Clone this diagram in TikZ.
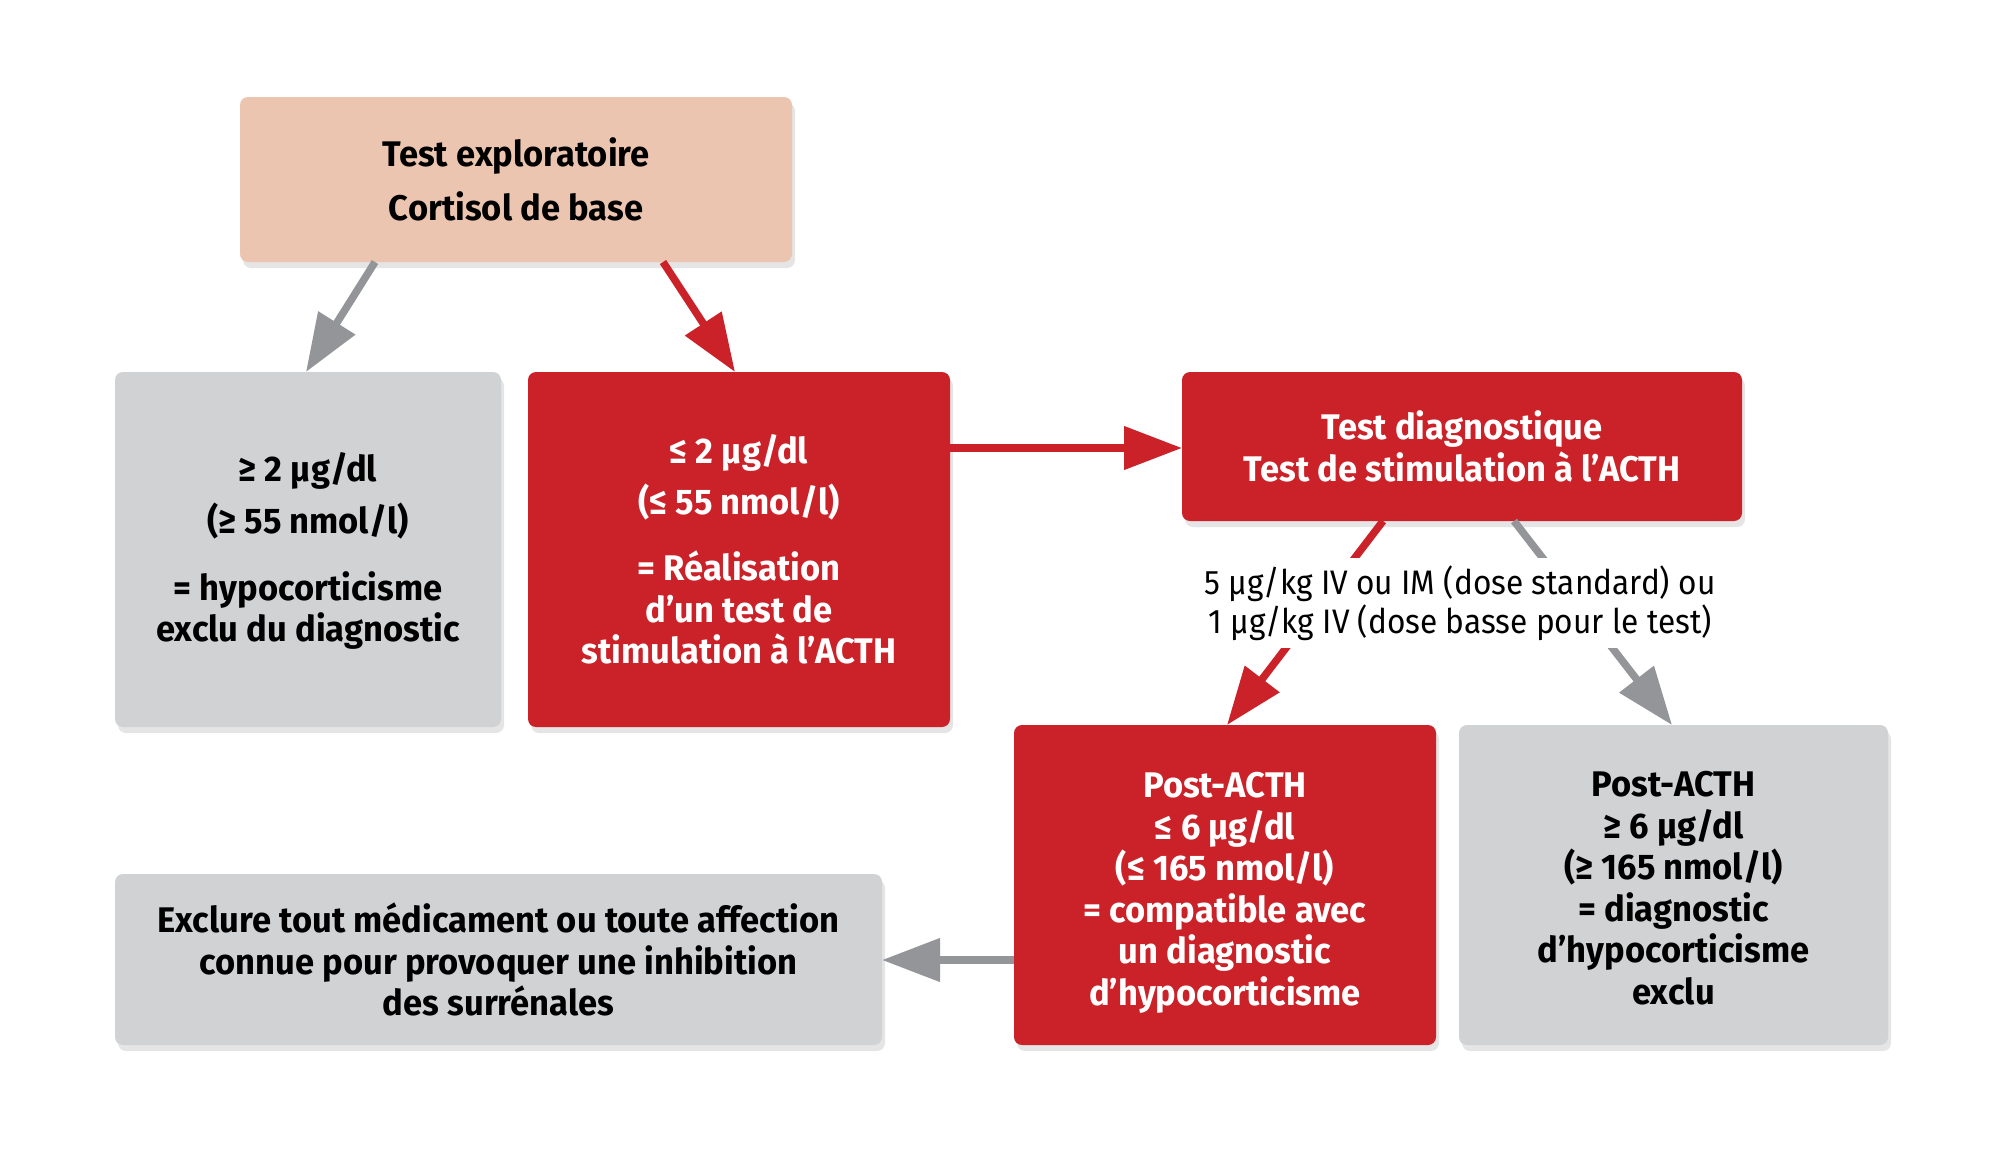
\documentclass[tikz,border=0pt]{standalone}
\usepackage{fontspec}
\setmainfont{Fira Sans}[FakeStretch=0.97]
\newfontfamily\lblfont{Fira Sans}[FakeStretch=0.93]
\usetikzlibrary{arrows.meta,shadows,calc}
\definecolor{cpeach}{HTML}{ECC5B0}
\definecolor{cred}{HTML}{CB2229}
\definecolor{cgray}{HTML}{D1D2D4}
\definecolor{carrow}{HTML}{939598}
\newcommand{\topstrut}{\rule{0pt}{20.5pt}}
\begin{document}
\begin{tikzpicture}[x=0.5pt,y=-0.5pt,
  box/.style={rounded corners=4pt, inner sep=0pt, outer sep=0pt, align=center,
    font=\fontsize{17.8}{20.75}\selectfont\bfseries,
    drop shadow={shadow xshift=1.5pt,shadow yshift=-3pt,opacity=0.2}},
  peachbox/.style={box, fill=cpeach, text=black},
  redbox/.style={box, fill=cred, text=white},
  graybox/.style={box, fill=cgray, text=black},
  rarr/.style={draw=cred, line width=3.75pt, -{Triangle[length=29pt,width=21pt]}, fill=cred},
  garr/.style={draw=carrow, line width=3.75pt, -{Triangle[length=29pt,width=21pt]}, fill=carrow},
  lbl/.style={align=center, fill=white, inner xsep=2pt, minimum height=45pt,
    font=\lblfont\fontsize{17}{19.6}\selectfont}
]
\useasboundingbox[fill=white] (0,0) rectangle (2000,1162);

\node[peachbox, minimum width=276pt, minimum height=82.5pt] (peach) at (516,179.5)
  {Test exploratoire\\[6pt]Cortisol de base};
\node[graybox, minimum width=193pt, minimum height=177.5pt] (gray1) at (308,549.5)
  {\rule{0pt}{16pt}≥ 2 µg/dl\\[5.5pt](≥ 55 nmol/l)\\[12.5pt]= hypocorticisme\\exclu du diagnostic};
\node[redbox, minimum width=211pt, minimum height=177.5pt] (red1) at (739,549.5)
  {≤ 2 µg/dl\\[4.5pt](≤ 55 nmol/l)\\[12.5pt]= Réalisation\\d’un test de\\stimulation à l’ACTH};
\node[redbox, minimum width=280pt, minimum height=74.5pt] (testdiag) at (1462,446.5)
  {Test diagnostique\\Test de stimulation à l’ACTH};
\node[redbox, minimum width=211pt, minimum height=160pt] (postred) at (1225,885)
  {\topstrut Post-ACTH\\≤ 6 µg/dl\\(≤ 165 nmol/l)\\= compatible avec\\un diagnostic\\d’hypocorticisme};
\node[graybox, minimum width=214.5pt, minimum height=160pt] (postgray) at (1673.5,885)
  {\rule{0pt}{16pt}Post-ACTH\\≥ 6 µg/dl\\(≥ 165 nmol/l)\\= diagnostic\\d’hypocorticisme\\exclu};
\node[graybox, minimum width=383.5pt, minimum height=85.5pt] (exclure) at (498.5,959.5)
  {Exclure tout médicament ou toute affection\\connue pour provoquer une inhibition\\des surrénales};

\draw[garr] ($(peach.south west)+(135,0)$) -- ($(gray1.north west)+(191,0)$);
\draw[rarr] ($(peach.south west)+(423,0)$) -- ($(red1.north west)+(207,0)$);
\draw[rarr] ($(red1.north east)+(0,76)$) -- ($(testdiag.north west)+(0,76)$);
\draw[rarr] ($(testdiag.south west)+(201,0)$) -- ($(postred.north west)+(213,0)$);
\draw[garr] ($(testdiag.south west)+(332,0)$) -- ($(postgray.north west)+(213,0)$);
\draw[garr] ($(postred.north west)+(0,235)$) -- ($(exclure.north east)+(0,86)$);

\node[lbl] (dose) at (1460,603)
  {5 µg/kg IV ou IM (dose standard) ou\\1 µg/kg IV (dose basse pour le test)};
\end{tikzpicture}
\end{document}
